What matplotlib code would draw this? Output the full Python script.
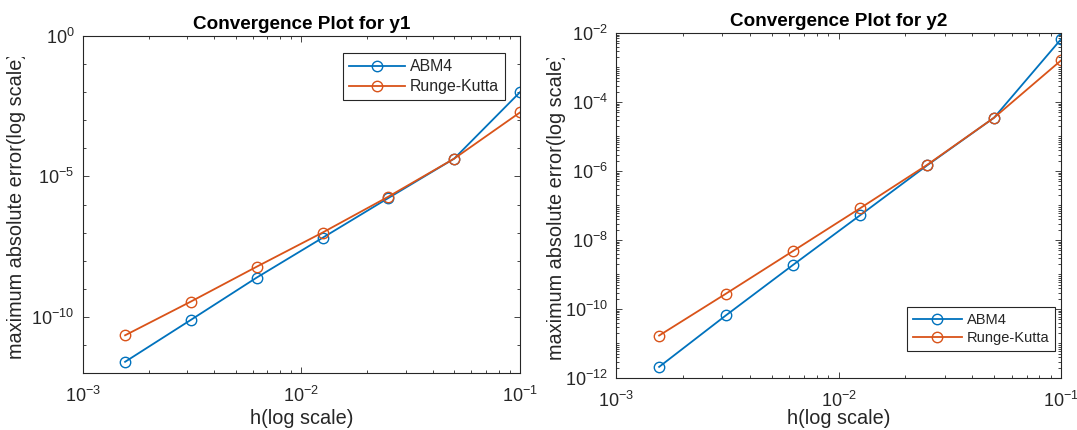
import matplotlib
matplotlib.use('Agg')
import matplotlib.pyplot as plt
from matplotlib.ticker import FixedLocator, LogLocator, NullFormatter
from matplotlib.transforms import Bbox

# step sizes (halved each run)
h = [0.1, 0.05, 0.025, 0.0125, 0.00625, 0.003125, 0.0015625]

# max abs error for y1
abm4_y1 = [1.0e-2, 4.3e-5, 1.7e-6, 6.5e-8, 2.5e-9, 7.8e-11, 2.5e-12]
rk_y1 = [1.9e-3, 4.3e-5, 1.9e-6, 1.0e-7, 6.1e-9, 3.5e-10, 2.2e-11]

# max abs error for y2
abm4_y2 = [6.6e-3, 3.5e-5, 1.45e-6, 5.2e-8, 1.9e-9, 6.6e-11, 2.1e-12]
rk_y2 = [1.6e-3, 3.5e-5, 1.5e-6, 8.3e-8, 4.8e-9, 2.8e-10, 1.7e-11]

series_labels = ['ABM4', 'Runge-Kutta']
titles = ['Convergence Plot for y1', 'Convergence Plot for y2']

BLUE = '#0072BD'
ORANGE = '#D95319'
DARK = '#262626'
LABEL_SIZE = 14.3

plt.rcParams['font.family'] = ['Liberation Sans', 'DejaVu Sans']
plt.rcParams['mathtext.fontset'] = 'custom'
plt.rcParams['mathtext.rm'] = 'Liberation Sans'
plt.rcParams['mathtext.it'] = 'Liberation Sans:italic'
plt.rcParams['mathtext.bf'] = 'Liberation Sans:bold'

W, H = 1077, 430
fig = plt.figure(figsize=(W / 100, H / 100), dpi=100)
ax1 = fig.add_axes([82.7 / W, 1 - 373 / H, 437.3 / W, 337 / H])
ax2 = fig.add_axes([616 / W, 1 - 378 / H, 445 / W, 345 / H])


def style_axes(ax, ylim, ymajor, yminor_subs):
    ax.set_xscale('log')
    ax.set_yscale('log')
    ax.set_xlim(1e-3, 1e-1)
    ax.set_ylim(*ylim)
    ax.xaxis.set_major_locator(FixedLocator([1e-3, 1e-2, 1e-1]))
    ax.xaxis.set_minor_locator(LogLocator(base=10, subs=range(2, 10), numticks=20))
    ax.xaxis.set_minor_formatter(NullFormatter())
    ax.yaxis.set_major_locator(FixedLocator(ymajor))
    ax.yaxis.set_minor_locator(LogLocator(base=10, subs=yminor_subs, numticks=40))
    ax.yaxis.set_minor_formatter(NullFormatter())
    ax.tick_params(which='both', direction='in', top=True, right=True,
                   color=DARK, labelcolor=DARK, labelsize=13, width=0.6)
    ax.tick_params(which='major', length=4.5)
    ax.tick_params(which='minor', length=2.5)
    ax.tick_params(axis='x', which='major', pad=9)
    ax.tick_params(axis='y', which='major', pad=6)
    for sp in ax.spines.values():
        sp.set_color(DARK)
        sp.set_linewidth(0.8)


def draw_panel(ax, abm, rk, title):
    ax.plot(h, abm, color=BLUE, marker='o', mfc='none', ms=7.5, mew=1.0, lw=1.3,
            label=series_labels[0])
    ax.plot(h, rk, color=ORANGE, marker='o', mfc='none', ms=7.5, mew=1.0, lw=1.3,
            label=series_labels[1])
    ax.set_title(title, fontsize=13.6, fontweight='bold', color='black', pad=5)
    ax.set_xlabel('h(log scale)', fontsize=LABEL_SIZE, color=DARK)
    ax.set_ylabel('maximum absolute error(log scale)', fontsize=LABEL_SIZE, color=DARK)


draw_panel(ax1, abm4_y1, rk_y1, titles[0])
style_axes(ax1, (1e-12, 1e0), [1e-10, 1e-5, 1e0], [1.0])

draw_panel(ax2, abm4_y2, rk_y2, titles[1])
style_axes(ax2, (1e-12, 1e-2), [1e-12, 1e-10, 1e-8, 1e-6, 1e-4, 1e-2],
           [1.0, 2, 3, 4, 5, 6, 7, 8, 9])

# label positions
ax1.xaxis.set_label_coords(0.5, -0.106)
ax2.xaxis.set_label_coords(0.5, -0.091)
ax1.yaxis.set_label_coords(-0.130, 0.497)
ax2.yaxis.set_label_coords(-0.112, 0.497)

leg_kw = dict(fancybox=False, edgecolor=DARK, framealpha=1, handletextpad=0.3,
              borderpad=0.4, labelspacing=0.3, borderaxespad=0,
              bbox_transform=fig.transFigure)
leg1 = ax1.legend(loc='upper right', bbox_to_anchor=(505 / W, 1 - 53 / H),
                  fontsize=11.4, handlelength=3.5, **leg_kw)
leg2 = ax2.legend(loc='lower right', bbox_to_anchor=(1055 / W, 1 - 351 / H),
                  fontsize=10.5, handlelength=3.4, **leg_kw)
for leg in (leg1, leg2):
    leg.get_frame().set_linewidth(0.8)
    for t in leg.get_texts():
        t.set_color(DARK)

# the closing bracket of each y label gets cut off at the top
fig.canvas.draw()
em = LABEL_SIZE * 100 / 72
for ax in (ax1, ax2):
    lab = ax.yaxis.label
    bb = lab.get_window_extent()
    lab.set_clip_box(Bbox.from_extents(0, 0, W, bb.y1 - 0.26 * em))
    lab.set_clip_on(True)

fig.savefig('out.png', dpi=100)
